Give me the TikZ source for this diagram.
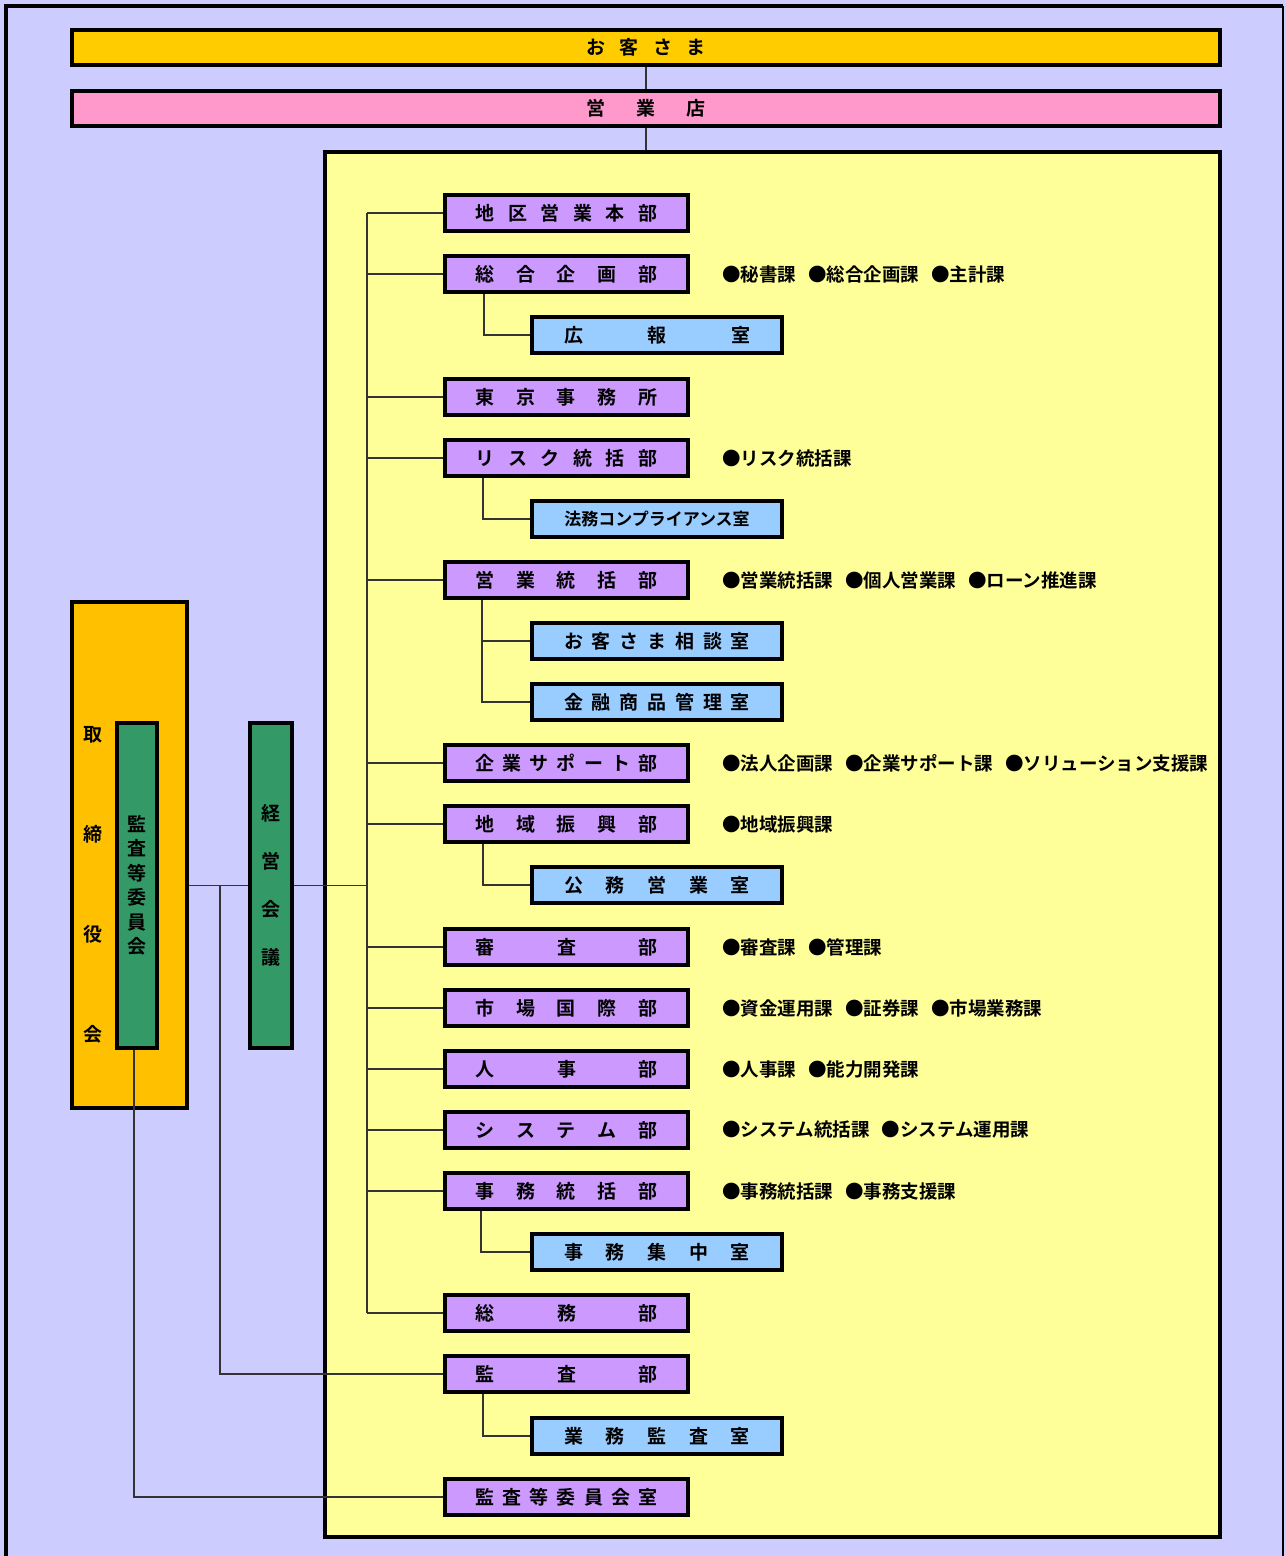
\documentclass[tikz,border=0pt]{standalone}
\usepackage{fontspec}
\setmainfont{Noto Sans CJK JP}[BoldFont={* Bold}]
\usepackage{xcolor}
\definecolor{bgblue}{HTML}{CCCCFF}
\definecolor{custyellow}{HTML}{FFCC00}
\definecolor{shoppink}{HTML}{FF99CC}
\definecolor{hqyellow}{HTML}{FFFF99}
\definecolor{deptpurple}{HTML}{CC99FF}
\definecolor{sectblue}{HTML}{99CCFF}
\definecolor{boardorange}{HTML}{FFC000}
\definecolor{meetgreen}{HTML}{339966}
\newcommand\dtext[1]{\makebox[182pt]{#1}}
\newcommand\stext[1]{\makebox[186pt]{#1}}
\newcommand\gap{\hspace{12pt}}

\begin{document}
\begin{tikzpicture}[
  x=1pt, y=-1pt,
  box/.style={draw, line width=4pt, inner sep=0pt, font=\fontsize{19}{22}\selectfont\bfseries},
  dept/.style={box, fill=deptpurple, minimum width=243pt, minimum height=36pt},
  sect/.style={box, fill=sectblue, minimum width=250pt, minimum height=36pt},
  note/.style={anchor=west, inner sep=0pt, xshift=32pt, font=\fontsize{18.5}{20}\selectfont\bfseries},
  link/.style={line width=1.5pt, black!80}
]
\useasboundingbox (0,0) rectangle (1285,1556);
\fill[bgblue] (0,0) rectangle (1285,1556);
\draw[line width=4pt] (6,1556) -- (6,6) -- (1283,6);
\draw[line width=1.5pt] (1283,6) -- (1283,1556);

\node[box, fill=custyellow, minimum width=1148pt, minimum height=35pt] (cust) at (646,47.5)
  {\makebox[119pt]{お\hfill 客\hfill さ\hfill ま}};
\node[box, fill=shoppink, minimum width=1148pt, minimum height=35pt] (shop) at (646,108.5)
  {\makebox[119pt]{営\hfill 業\hfill 店}};
\node[box, fill=hqyellow, minimum width=895pt, minimum height=1385pt] (hq) at (772.5,844.5) {};

\node[box, fill=boardorange, minimum width=115pt, minimum height=506pt] (board) at (129.5,855) {};
\node[inner sep=0pt, align=center, font=\fontsize{19}{100}\selectfont\bfseries] (boardlabel) at (93,885)
  {取\\締\\役\\会};
\node[box, fill=meetgreen, minimum width=40pt, minimum height=325pt, align=center,
  font=\fontsize{19}{24.5}\selectfont\bfseries] (audit) at (137,885.5) {監\\査\\等\\委\\員\\会};
\node[box, fill=meetgreen, minimum width=42pt, minimum height=325pt, align=center,
  font=\fontsize{19}{48}\selectfont\bfseries] (meeting) at (271,885.5) {経\\営\\会\\議};

\node[dept] (d1) at (566.5,213) {\dtext{地\hfill 区\hfill 営\hfill 業\hfill 本\hfill 部}};
\node[dept] (d2) at (566.5,274) {\dtext{総\hfill 合\hfill 企\hfill 画\hfill 部}};
\node[sect] (s1) at (657,335) {\stext{広\hfill 報\hfill 室}};
\node[dept] (d3) at (566.5,397) {\dtext{東\hfill 京\hfill 事\hfill 務\hfill 所}};
\node[dept] (d4) at (566.5,458) {\dtext{リ\hfill ス\hfill ク\hfill 統\hfill 括\hfill 部}};
\node[sect, font=\fontsize{17}{20}\selectfont\bfseries] (s2) at (657,519) {法務コンプライアンス室};
\node[dept] (d5) at (566.5,580) {\dtext{営\hfill 業\hfill 統\hfill 括\hfill 部}};
\node[sect] (s3) at (657,641) {\stext{お\hfill 客\hfill さ\hfill ま\hfill 相\hfill 談\hfill 室}};
\node[sect] (s4) at (657,702) {\stext{金\hfill 融\hfill 商\hfill 品\hfill 管\hfill 理\hfill 室}};
\node[dept] (d6) at (566.5,763) {\dtext{企\hfill 業\hfill サ\hfill ポ\hfill ー\hfill ト\hfill 部}};
\node[dept] (d7) at (566.5,824) {\dtext{地\hfill 域\hfill 振\hfill 興\hfill 部}};
\node[sect] (s5) at (657,885) {\stext{公\hfill 務\hfill 営\hfill 業\hfill 室}};
\node[dept] (d8) at (566.5,947) {\dtext{審\hfill 査\hfill 部}};
\node[dept] (d9) at (566.5,1008) {\dtext{市\hfill 場\hfill 国\hfill 際\hfill 部}};
\node[dept] (d10) at (566.5,1069) {\dtext{人\hfill 事\hfill 部}};
\node[dept] (d11) at (566.5,1130) {\dtext{シ\hfill ス\hfill テ\hfill ム\hfill 部}};
\node[dept] (d12) at (566.5,1191) {\dtext{事\hfill 務\hfill 統\hfill 括\hfill 部}};
\node[sect] (s6) at (657,1252) {\stext{事\hfill 務\hfill 集\hfill 中\hfill 室}};
\node[dept] (d13) at (566.5,1313) {\dtext{総\hfill 務\hfill 部}};
\node[dept] (d14) at (566.5,1374) {\dtext{監\hfill 査\hfill 部}};
\node[sect] (s7) at (657,1436) {\stext{業\hfill 務\hfill 監\hfill 査\hfill 室}};
\node[dept] (d15) at (566.5,1497) {\dtext{監\hfill 査\hfill 等\hfill 委\hfill 員\hfill 会\hfill 室}};

% sections under each department
\node[note] (n2) at (d2.east) {●秘書課\gap●総合企画課\gap●主計課};
\node[note] (n4) at (d4.east) {●リスク統括課};
\node[note] (n5) at (d5.east) {●営業統括課\gap●個人営業課\gap●ローン推進課};
\node[note] (n6) at (d6.east) {●法人企画課\gap●企業サポート課\gap●ソリューション支援課};
\node[note] (n7) at (d7.east) {●地域振興課};
\node[note] (n8) at (d8.east) {●審査課\gap●管理課};
\node[note] (n9) at (d9.east) {●資金運用課\gap●証券課\gap●市場業務課};
\node[note] (n10) at (d10.east) {●人事課\gap●能力開発課};
\node[note] (n11) at (d11.east) {●システム統括課\gap●システム運用課};
\node[note] (n12) at (d12.east) {●事務統括課\gap●事務支援課};

\draw[link] (cust.south) -- (shop.north);
\draw[link] (shop.south) -- (shop.south |- hq.north);

\coordinate (trunk) at (367,0);
\draw[link] (trunk |- d1.west) -- (trunk |- d13.west);
\foreach \i in {1,...,13}
  \draw[link] (trunk |- d\i.west) -- (d\i.west);
\draw[link] (meeting.east) -- (trunk |- meeting.east);
\draw[link] (board.east |- meeting.west) -- (meeting.west);

\coordinate (auditline) at (220,0);
\draw[link] (auditline |- meeting.west) |- (d14.west);
\draw[link] ([xshift=-3pt]audit.south) |- (d15.west);

\draw[link] ([xshift=41pt]d2.south west) |- (s1.west);
\draw[link] ([xshift=40pt]d4.south west) |- (s2.west);
\draw[link] ([xshift=39pt]d5.south west) |- (s3.west);
\draw[link] ([xshift=39pt]d5.south west) |- (s4.west);
\draw[link] ([xshift=40pt]d7.south west) |- (s5.west);
\draw[link] ([xshift=38pt]d12.south west) |- (s6.west);
\draw[link] ([xshift=40pt]d14.south west) |- (s7.west);
\end{tikzpicture}
\end{document}
